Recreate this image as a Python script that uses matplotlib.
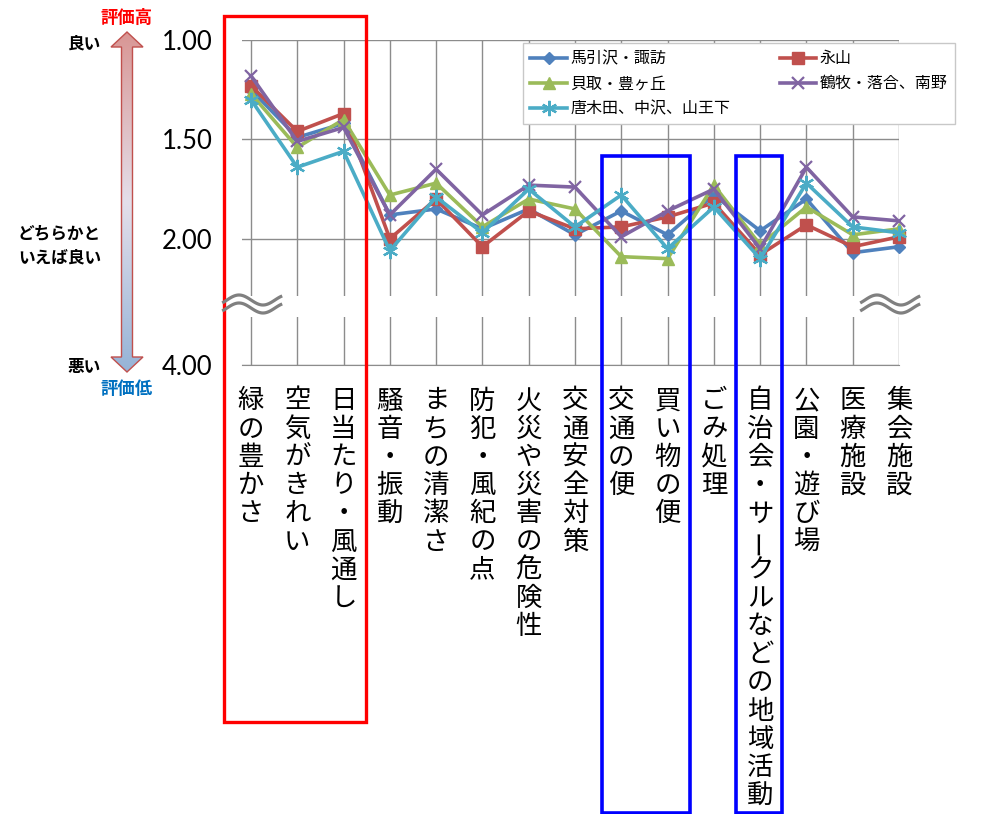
import matplotlib
matplotlib.use('Agg')
import matplotlib.pyplot as plt
import numpy as np
from matplotlib.patches import Polygon, Rectangle
from matplotlib.colors import LinearSegmentedColormap

plt.rcParams['font.family'] = ['Noto Sans CJK JP', 'DejaVu Sans']

categories = ['緑の豊かさ', '空気がきれい', '日当たり・風通し', '騒音・振動', 'まちの清潔さ',
              '防犯・風紀の点', '火災や災害の危険性', '交通安全対策', '交通の便', '買い物の便',
              'ごみ処理', '自治会・サークルなどの地域活動', '公園・遊び場', '医療施設', '集会施設']

names = ['馬引沢・諏訪', '永山', '貝取・豊ヶ丘', '鶴牧・落合、南野', '唐木田、中沢、山王下']
umahikisawa = [1.25, 1.49, 1.42, 1.88, 1.85, 1.95, 1.85, 1.98, 1.86, 1.98, 1.78, 1.96, 1.80, 2.07, 2.04]
nagayama    = [1.23, 1.46, 1.37, 2.00, 1.80, 2.04, 1.86, 1.95, 1.94, 1.89, 1.82, 2.08, 1.93, 2.04, 1.99]
kaidori     = [1.27, 1.54, 1.40, 1.78, 1.72, 1.94, 1.80, 1.85, 2.09, 2.10, 1.73, 2.03, 1.84, 1.98, 1.95]
tsurumaki   = [1.18, 1.51, 1.44, 1.88, 1.65, 1.88, 1.73, 1.74, 1.99, 1.86, 1.75, 2.05, 1.64, 1.89, 1.91]
karakida    = [1.30, 1.64, 1.56, 2.06, 1.79, 1.97, 1.75, 1.94, 1.78, 2.05, 1.84, 2.10, 1.72, 1.94, 1.97]

ytick_vals = [1.0, 1.5, 2.0, 2.635]
ytick_labels = ['1.00', '1.50', '2.00', '4.00']

W, H = 985, 814
fig = plt.figure(figsize=(W / 100, H / 100), dpi=100)
ax = fig.add_axes([242 / W, 1 - 365 / H, (899 - 242) / W, (365 - 40) / H])

styles = [
    dict(color='#4f81bd', marker='D', ms=6),
    dict(color='#c0504d', marker='s', ms=8),
    dict(color='#9bbb59', marker='^', ms=9),
    dict(color='#8064a2', marker='x', ms=9, mew=1.6),
    dict(color='#4bacc6', marker=(6, 2, 0), ms=11, mew=1.6),
]
x = np.arange(len(categories))
handles = []
for name, vals, st in zip(names, [umahikisawa, nagayama, kaidori, tsurumaki, karakida], styles):
    h, = ax.plot(x, vals, lw=2.6, label=name, zorder=3, clip_on=False, **st)
    handles.append(h)

ax.set_xlim(-0.194, 14)
ax.set_ylim(2.635, 1.0)
ax.set_xticks(x)
ax.set_xticklabels([])
ax.set_yticks(ytick_vals)
ax.set_yticklabels(ytick_labels, fontsize=18.5, family='Lato')
ax.tick_params(length=0, pad=21)
ax.set_axisbelow(True)
ax.grid(True, color='#8c8c8c', lw=1.0)
for s in ['top', 'left', 'right']:
    ax.spines[s].set_visible(False)
ax.spines['bottom'].set_color('#8c8c8c')
# break in the axis
ax.axhspan(2.29, 2.395, color='white', zorder=1, lw=0)

# vertical category labels
for i, lab in enumerate(categories):
    for j, ch in enumerate(lab):
        ax.annotate(ch, xy=(i, 0), xycoords=('data', 'axes fraction'),
                    xytext=(0, -(36 + j * 28.2)), textcoords='offset pixels',
                    ha='center', va='center', fontsize=19,
                    rotation=90 if ch == 'ー' else 0, annotation_clip=False)

fig.legend(handles=[handles[0], handles[2], handles[4], handles[1], handles[3]],
           loc='upper left', bbox_to_anchor=(523 / W, 1 - 43 / H), ncol=2,
           fancybox=False, edgecolor='#c8c8c8', fontsize=11.5, handlelength=2.3,
           handletextpad=0.2, columnspacing=3.1, labelspacing=0.5, borderpad=0.45,
           borderaxespad=0, framealpha=1)

# overlay in pixel coordinates
ov = fig.add_axes([0, 0, 1, 1])
ov.patch.set_alpha(0)

# gradient double arrow
arrow = [(127, 32), (143, 47), (132.5, 47), (132.5, 357), (143, 357), (127, 372),
         (111, 357), (121.5, 357), (121.5, 47), (111, 47)]
cm = LinearSegmentedColormap.from_list('g', ['#d99694', '#e4dfea', '#95b3d7'])
grad = np.linspace(0, 1, 256).reshape(-1, 1)
im = ov.imshow(grad, cmap=cm, extent=[110, 144, 373, 31], aspect='auto', origin='upper')
poly = Polygon(arrow, closed=True, fc='none', ec='#c0504d', lw=1.0)
ov.add_patch(poly)
im.set_clip_path(poly)

ov.text(127, 18, '評価高', color='#ff0000', fontsize=12.5, weight='bold', ha='center', va='center')
ov.text(127, 389, '評価低', color='#0070c0', fontsize=12.5, weight='bold', ha='center', va='center')
ov.text(101, 43, '良い', fontsize=12, weight='bold', ha='right', va='center')
ov.text(101, 233, 'どちらかと', fontsize=12, weight='bold', ha='right', va='center')
ov.text(101, 257, 'いえば良い', fontsize=12, weight='bold', ha='right', va='center')
ov.text(101, 367, '悪い', fontsize=12, weight='bold', ha='right', va='center')

# break marks
t = np.linspace(-0.1, 1.15, 60)
for cx in [254, 892]:
    for dy in [-4, 4]:
        ov.plot(cx - 27 + t * 48, 304 + dy - 5 * np.sin(2 * np.pi * t), color='#808080', lw=2.3,
                solid_capstyle='butt')

# highlight boxes
ov.add_patch(Rectangle((224, 16), 142, 706, fill=False, ec='#ff0000', lw=2.4))
ov.add_patch(Rectangle((602, 156), 88, 657, fill=False, ec='#0000ff', lw=2.6))
ov.add_patch(Rectangle((736, 156), 46, 657, fill=False, ec='#0000ff', lw=2.6))

ov.set_xlim(0, W)
ov.set_ylim(H, 0)
ov.axis('off')

fig.savefig('out.png', dpi=100)
